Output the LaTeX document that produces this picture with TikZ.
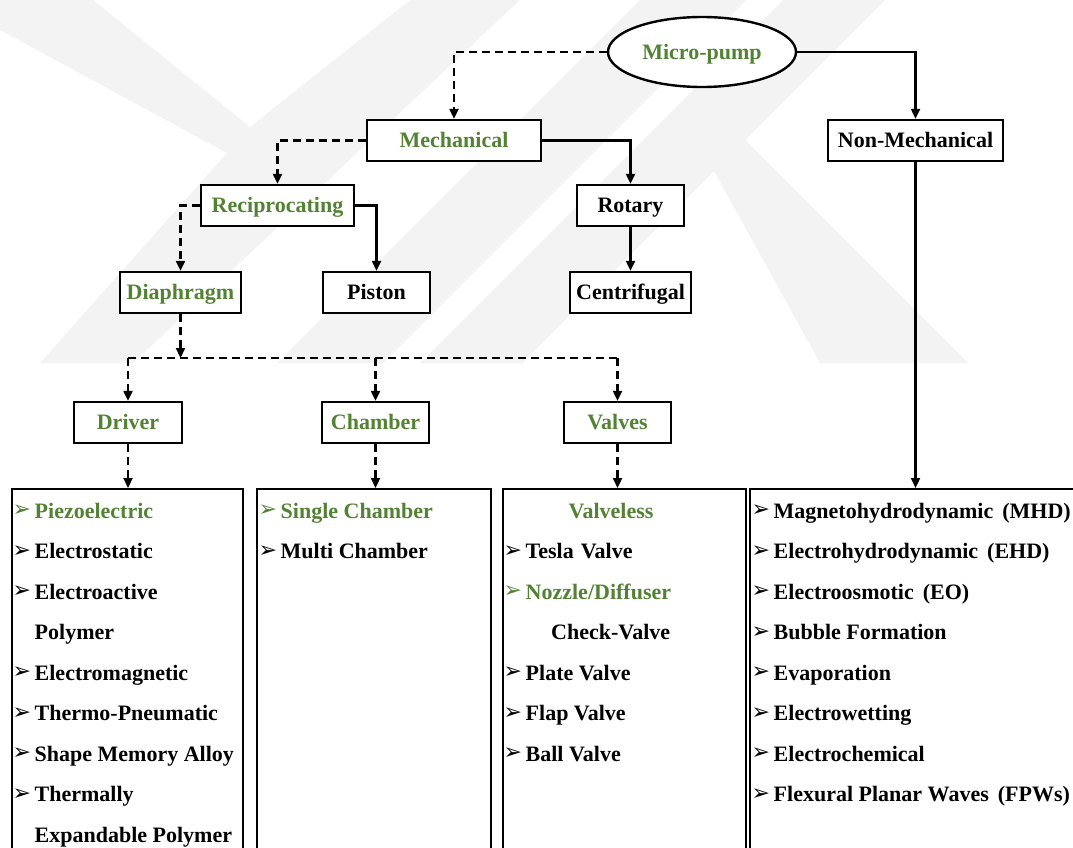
\documentclass[tikz,border=0pt]{standalone}
\usepackage{fontspec}
\setmainfont{Liberation Serif}
\newfontfamily\arrowfont{DejaVu Sans}
\usetikzlibrary{arrows.meta,shapes.geometric}
\definecolor{leafgreen}{RGB}{84,130,53}
\definecolor{wmgrey}{RGB}{243,243,243}
% list bullet and a wider word gap
\newcommand\bul{\makebox[20.5pt][l]{\hspace{-1.5pt}\raisebox{1.5pt}{\arrowfont\fontsize{22}{22}\selectfont ➢}}}
\newcommand\wsp{\hspace{9pt}}

\begin{document}
\begin{tikzpicture}[x=1pt,y=-1pt,
  every node/.style={font=\fontsize{22}{26}\selectfont\bfseries},
  box/.style={draw, fill=white, line width=2.4pt, minimum height=41pt, inner sep=0pt,
    text height=16pt, text depth=2pt},
  gtext/.style={text=leafgreen},
  conn/.style={line width=2.2pt, -{Triangle[length=10pt,width=9pt]}},
  dashconn/.style={conn, dash pattern=on 8pt off 5pt},
  dashline/.style={line width=2.2pt, dash pattern=on 8pt off 5pt},
  listbox/.style={draw, line width=2.4pt, anchor=north west, minimum height=420pt, inner sep=0pt},
  item/.style={anchor=base west, inner sep=0pt},
]
\useasboundingbox (0,0) rectangle (1073,847);
\fill[white] (0,0) rectangle (1073,847);
\clip (0,0) rectangle (1073,847);

% faint background emblem
\fill[wmgrey] (0,0) -- (93,0) -- (250,127) -- (410,0) -- (520,0) -- (133,363)
  -- (40,363) -- (227,153) -- (0,30) -- cycle;
\fill[wmgrey] (277,363) -- (383,363) -- (746,0) -- (640,0) -- cycle;
\fill[wmgrey] (420,363) -- (522,363) -- (885,0) -- (783,0) -- cycle;
\fill[wmgrey] (708,160) -- (738,133) -- (968,363) -- (820,363) -- cycle;

% top levels
\node[ellipse, draw, fill=white, line width=2.4pt, minimum width=188pt, minimum height=70pt, inner sep=0pt,
  text height=16pt, text depth=2pt, gtext] (mp) at (702,52) {Micro-pump};
\node[box, gtext, minimum width=174pt] (mech) at (454,140.5) {Mechanical};
\node[box, minimum width=175pt] (nonmech) at (915.5,140.5) {Non-Mechanical};
\node[box, gtext, minimum width=153pt] (recip) at (277.5,205.5) {Reciprocating};
\node[box, minimum width=107pt] (rotary) at (630.5,205.5) {Rotary};
\node[box, gtext, minimum width=121pt] (diaph) at (180.5,292.5) {Diaphragm};
\node[box, minimum width=107pt] (piston) at (376.5,292.5) {Piston};
\node[box, minimum width=121pt] (centr) at (630.5,292.5) {Centrifugal};
\node[box, gtext, minimum width=108pt] (driver) at (128,422.5) {Driver};
\node[box, gtext, minimum width=107pt] (chamber) at (375.5,422.5) {Chamber};
\node[box, gtext, minimum width=107pt] (valves) at (617.5,422.5) {Valves};

% list boxes
\node[listbox, minimum width=231pt] (dlist) at (11,488) {};
\node[listbox, minimum width=234pt] (clist) at (256,488) {};
\node[listbox, minimum width=243pt] (vlist) at (502,488) {};
\node[listbox, minimum width=340pt] (nlist) at (749,488) {};

% connectors
\draw[dashconn] (mp.west) -| (mech.north);
\draw[conn] (mp.east) -| (nonmech.north);
\draw[dashconn] (mech.west) -| (recip.north);
\draw[conn] (mech.east) -| (rotary.north);
\draw[dashconn] (recip.west) -| (diaph.north);
\draw[conn] (recip.east) -| (piston.north);
\draw[conn] (rotary.south) -- (centr.north);
\coordinate (bus) at (0,358);
\draw[dashconn] (diaph.south) -- (diaph.south |- bus);
\draw[dashline] (driver.north |- bus) -- (valves.north |- bus);
\draw[dashconn] (driver.north |- bus) -- (driver.north);
\draw[dashconn] (chamber.north |- bus) -- (chamber.north);
\draw[dashconn] (valves.north |- bus) -- (valves.north);
\draw[dashconn] (driver.south) -- (driver.south |- dlist.north);
\draw[dashconn] (chamber.south) -- (chamber.south |- clist.north);
\draw[dashconn] (valves.south) -- (valves.south |- vlist.north);
\draw[conn] (nonmech.south) -- (nonmech.south |- nlist.north);

% driver list
\node[item, gtext] (d1) at (14,518) {\bul Piezoelectric};
\node[item] (d2) at (14,558.5) {\bul Electrostatic};
\node[item] (d3) at (14,599) {\bul Electroactive};
\node[item] (d3b) at (34.5,639.5) {Polymer};
\node[item] (d4) at (14,680) {\bul Electromagnetic};
\node[item] (d5) at (14,720.5) {\bul Thermo-Pneumatic};
\node[item] (d6) at (14,761) {\bul Shape Memory Alloy};
\node[item] (d7) at (14,801.5) {\bul Thermally};
\node[item] (d7b) at (34.5,842) {Expandable Polymer};

% chamber list
\node[item, gtext] (c1) at (260,518) {\bul Single Chamber};
\node[item] (c2) at (260,558.5) {\bul Multi Chamber};

% valves list
\node[anchor=base, inner sep=0pt, gtext] (v0) at (611,518) {Valveless};
\node[item] (v1) at (505,558.5) {\bul Tesla\hspace{7pt}Valve};
\node[item, gtext] (v2) at (505,599) {\bul Nozzle/Diffuser};
\node[item] (v2b) at (551,639.5) {Check-Valve};
\node[item] (v3) at (505,680) {\bul Plate Valve};
\node[item] (v4) at (505,720.5) {\bul Flap Valve};
\node[item] (v5) at (505,761) {\bul Ball Valve};

% non-mechanical list
\node[item] (n1) at (753,518) {\bul Magnetohydrodynamic\wsp(MHD)};
\node[item] (n2) at (753,558.5) {\bul Electrohydrodynamic\wsp(EHD)};
\node[item] (n3) at (753,599) {\bul Electroosmotic\wsp(EO)};
\node[item] (n4) at (753,639.5) {\bul Bubble Formation};
\node[item] (n5) at (753,680) {\bul Evaporation};
\node[item] (n6) at (753,720.5) {\bul Electrowetting};
\node[item] (n7) at (753,761) {\bul Electrochemical};
\node[item] (n8) at (753,801.5) {\bul Flexural Planar Waves\wsp(FPWs)};
\end{tikzpicture}
\end{document}
